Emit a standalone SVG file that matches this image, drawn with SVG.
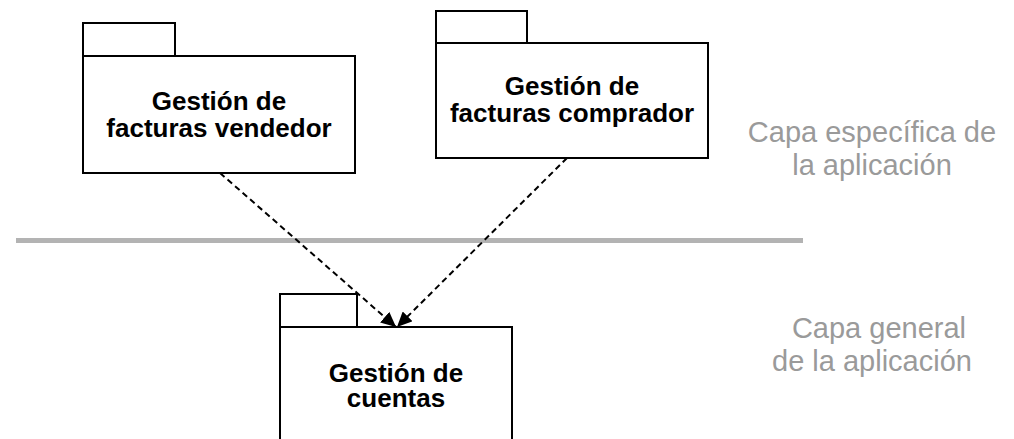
<svg xmlns="http://www.w3.org/2000/svg" width="1014" height="439" viewBox="0 0 1014 439">
<style>
.pk{fill:#fff;stroke:#000;stroke-width:2}
.lbl{font-family:"Liberation Sans",Arial,sans-serif;font-weight:bold;font-size:26px;fill:#000;text-anchor:middle}
.layer{font-family:"Liberation Sans",Arial,sans-serif;font-size:29px;fill:#9a9a9a;text-anchor:middle}
.dep{fill:none;stroke:#000;stroke-width:2;stroke-dasharray:6,4}
</style>
<defs>
<marker id="ah" markerWidth="16" markerHeight="14" refX="15" refY="7" orient="auto" markerUnits="userSpaceOnUse">
<path d="M0,0 L15,7 L0,14 Z" fill="#000"/>
</marker>
</defs>
<rect width="1014" height="439" fill="#fff"/>
<line x1="16" y1="240.5" x2="803" y2="240.5" stroke="#b3b3b3" stroke-width="5"/>
<g id="layer-labels">
<text class="layer" x="872" y="142">Capa específica de</text>
<text class="layer" x="872" y="175">la aplicación</text>
<text class="layer" x="879" y="338">Capa general</text>
<text class="layer" x="872" y="371">de la aplicación</text>
</g>
<g id="pkg-vendedor">
<rect class="pk" x="83" y="23" width="92" height="33"/>
<rect class="pk" x="83" y="56" width="272" height="117"/>
<text class="lbl" x="219" y="110">Gestión de</text>
<text class="lbl" x="219" y="136.5">facturas vendedor</text>
</g>
<g id="pkg-comprador">
<rect class="pk" x="436" y="11" width="91" height="32"/>
<rect class="pk" x="436" y="43" width="272" height="115"/>
<text class="lbl" x="572" y="95">Gestión de</text>
<text class="lbl" x="572" y="121.5">facturas comprador</text>
</g>
<g id="pkg-cuentas">
<rect class="pk" x="280" y="294" width="77" height="33"/>
<path class="pk" d="M280,445 L280,327 L512,327 L512,445"/>
<text class="lbl" x="396" y="381.5">Gestión de</text>
<text class="lbl" x="396" y="407">cuentas</text>
</g>
<g id="connectors">
<line class="dep" x1="220" y1="173" x2="396" y2="327" marker-end="url(#ah)"/>
<line class="dep" x1="567" y1="158" x2="397" y2="327" marker-end="url(#ah)"/>
</g>
</svg>
